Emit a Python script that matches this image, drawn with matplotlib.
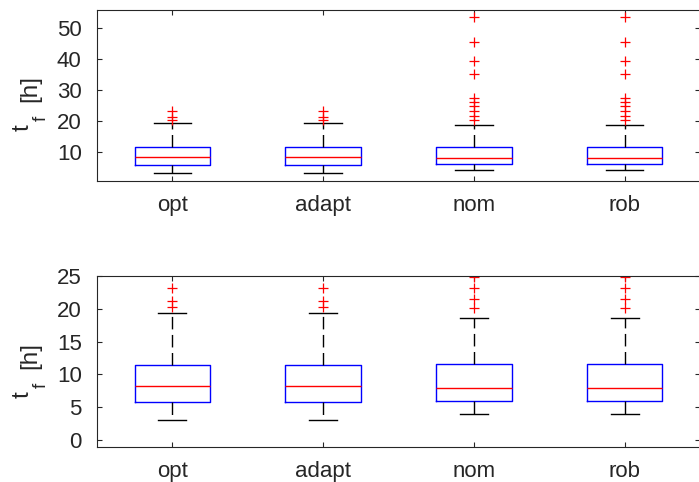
import matplotlib
matplotlib.use("Agg")
import matplotlib.pyplot as plt

plt.rcParams['font.family'] = ['Liberation Sans', 'DejaVu Sans']
plt.rcParams['lines.scale_dashes'] = False

categories = ['opt', 'adapt', 'nom', 'rob']
q1 = [5.8, 5.8, 6.0, 6.0]
med = [8.2, 8.2, 7.9, 7.9]
q3 = [11.45, 11.45, 11.6, 11.6]
whislo = [3.1, 3.1, 4.05, 4.05]
whishi = [19.35, 19.35, 18.55, 18.55]
fliers_opt = [20.3, 21.2, 23.2]
fliers_adapt = [20.3, 21.2, 23.2]
fliers_nom = [20.2, 21.5, 23.1, 24.9, 26.2, 27.3, 35.1, 39.4, 45.5, 53.6]
fliers_rob = [20.2, 21.5, 23.1, 24.9, 26.2, 27.3, 35.1, 39.4, 45.5, 53.6]
fliers = [fliers_opt, fliers_adapt, fliers_nom, fliers_rob]

top_ylim = (0.4, 56)
top_yticks = [10, 20, 30, 40, 50]
bot_ylim = (-1, 25)
bot_yticks = [0, 5, 10, 15, 20, 25]
ylabel_main = 't'
ylabel_sub = 'f'
ylabel_unit = '[h]'

stats = []
for i, c in enumerate(categories):
    stats.append(dict(label=c, q1=q1[i], med=med[i], q3=q3[i],
                      whislo=whislo[i], whishi=whishi[i], fliers=fliers[i]))

W, H = 699, 482
fig = plt.figure(figsize=(W / 100, H / 100), dpi=100)
gray = '#262626'

def px(x, y):
    return x / W, (H - y) / H

def make_ax(rect, ylim, yticks, capw, label_dy):
    ax = fig.add_axes(rect)
    ax.bxp(stats, positions=[1, 2, 3, 4], widths=0.5, capwidths=capw,
           boxprops=dict(color='blue', linewidth=1.0),
           medianprops=dict(color='red', linewidth=1.0),
           whiskerprops=dict(color='black', linewidth=1.0, linestyle=(0, (9, 4))),
           capprops=dict(color='black', linewidth=1.0),
           flierprops=dict(marker='+', markeredgecolor='red', markersize=7,
                           markeredgewidth=0.9, linestyle='none'),
           manage_ticks=False)
    ax.set_xlim(0.5, 4.5)
    ax.set_ylim(*ylim)
    ax.set_yticks(yticks)
    ax.set_xticks([1, 2, 3, 4])
    ax.set_xticklabels(categories)
    ax.tick_params(direction='in', length=3.6, width=0.8, colors=gray,
                   labelsize=16, top=True, right=True)
    ax.tick_params(axis='y', pad=11)
    ax.tick_params(axis='x', pad=10)
    for s in ax.spines.values():
        s.set_color(gray)
        s.set_linewidth(0.8)
    # y label: t with subscript f, then [h]
    kw = dict(rotation=90, rotation_mode='anchor', ha='left', va='baseline', color=gray)
    fig.text(*px(28.5, 131 + label_dy), ylabel_main, fontsize=17.5, **kw)
    fig.text(*px(45.5, 121 + label_dy), ylabel_sub, fontsize=13.5, **kw)
    fig.text(*px(36.5, 102 + label_dy), ylabel_unit, fontsize=17.5, **kw)
    return ax

ax1 = make_ax([97 / W, (H - 181.3) / H, (700 - 97) / W, (181.3 - 9.7) / H],
              top_ylim, top_yticks, 0.25, 0)
ax2 = make_ax([97 / W, (H - 446.7) / H, (700 - 97) / W, (446.7 - 276) / H],
              bot_ylim, bot_yticks, 0.185, 267)

fig.savefig('out.png', dpi=100)
